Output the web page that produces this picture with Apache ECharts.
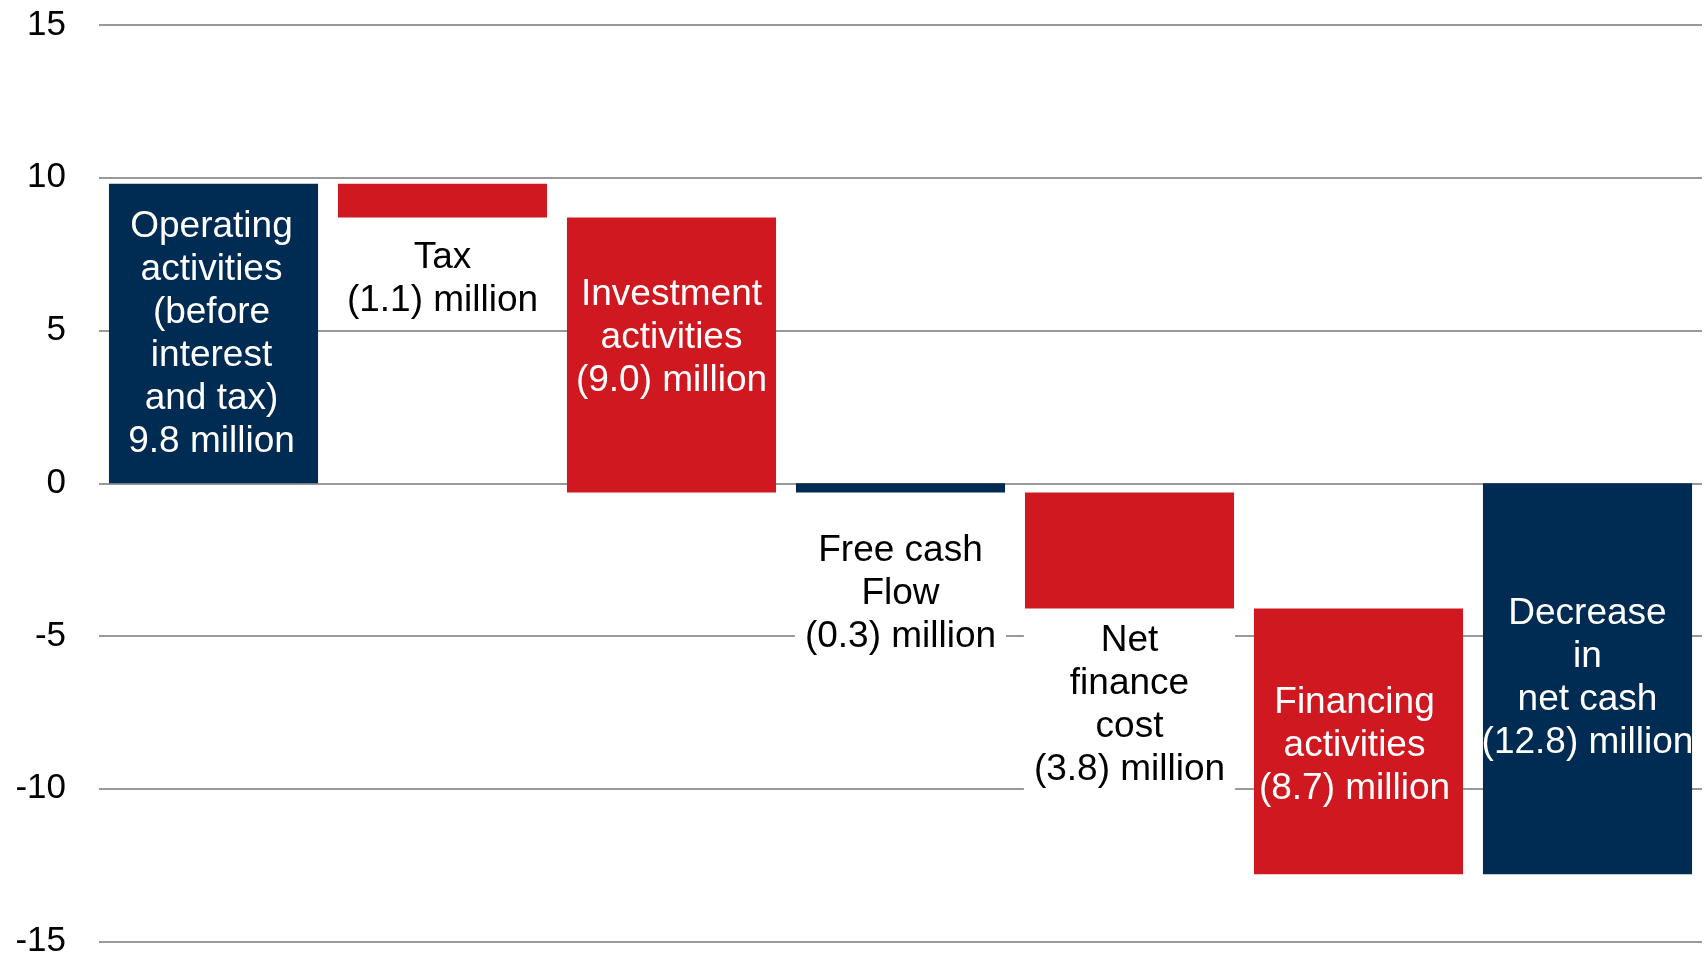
<!DOCTYPE html>
<html>
<head>
<meta charset="utf-8">
<script src="https://cdn.jsdelivr.net/npm/echarts@6/dist/echarts.min.js"></script>
<style>
  html, body { margin: 0; padding: 0; background: #fff; }
  #chart { width: 1708px; height: 959px; }
</style>
</head>
<body>
<div id="chart"></div>
<script>
// 现金流瀑布图 数据
var categories = ['Operating activities', 'Tax', 'Investment activities', 'Free cash Flow', 'Net finance cost', 'Financing activities', 'Decrease in net cash']
var changes = [9.8, -1.1, -9.0, -0.3, -3.8, -8.7, -12.8]
var isTotal = [false, false, false, true, false, false, true]
var labels = [
  'Operating\nactivities\n(before\ninterest\nand tax)\n9.8 million',
  'Tax\n(1.1) million',
  'Investment\nactivities\n(9.0) million',
  'Free cash\nFlow\n(0.3) million',
  'Net\nfinance\ncost\n(3.8) million',
  'Financing\nactivities\n(8.7) million',
  'Decrease\nin\nnet cash\n(12.8) million'
]
var yTicks = [-15, -10, -5, 0, 5, 10, 15]

// 颜色 / 标签位置（样式）
var navy = '#002b52'
var red = '#cf1820'
var labelStyle = [
  { pos: 'inside', color: '#fff', offset: [-2, 1] },
  { pos: 'bottom', color: '#000', distance: 19 },
  { pos: 'inside', color: '#fff', offset: [0, -17] },
  { pos: 'bottom', color: '#000', distance: 37, bg: true },
  { pos: 'bottom', color: '#000', distance: 11, bg: true },
  { pos: 'inside', color: '#fff', offset: [-4, 4] },
  { pos: 'inside', color: '#fff', offset: [0, 0] }
]

// 计算每根柱子的起止
var rows = []
var running = 0
for (var i = 0; i < changes.length; i++) {
  var low, high
  if (isTotal[i]) {
    low = Math.min(0, changes[i])
    high = Math.max(0, changes[i])
    running = changes[i]
  } else {
    var next = running + changes[i]
    low = Math.min(running, next)
    high = Math.max(running, next)
    running = next
  }
  rows.push([i, +low.toFixed(2), +high.toFixed(2)])
}

var myChart = echarts.init(document.getElementById('chart'))
var option = {
  animation: false,
  grid: {
    left: 99,
    right: 6,
    top: 25,
    bottom: 15
  },
  xAxis: {
    type: 'category',
    data: categories,
    axisLabel: { show: false },
    axisTick: { show: false },
    axisLine: { show: false },
    splitLine: { show: false }
  },
  yAxis: {
    type: 'value',
    min: yTicks[0],
    max: yTicks[yTicks.length - 1],
    interval: 5,
    axisLine: { show: false },
    axisTick: { show: false },
    axisLabel: {
      color: '#000',
      fontSize: 35,
      fontFamily: '"Liberation Sans", Arial, sans-serif',
      margin: 33
    },
    splitLine: {
      lineStyle: { color: '#999', width: 2 }
    }
  },
  series: [
    {
      type: 'custom',
      encode: { x: 0, y: [1, 2] },
      data: rows,
      renderItem: function (params, api) {
        var idx = params.dataIndex
        var top = api.coord([idx, api.value(2)])
        var bottom = api.coord([idx, api.value(1)])
        var w = api.size([1, 0])[0] * 0.913
        var ls = labelStyle[idx]
        var barColor = (isTotal[idx] || idx === 0) ? navy : red
        return {
          type: 'rect',
          shape: { x: top[0] - w / 2, y: top[1], width: w, height: bottom[1] - top[1] },
          style: { fill: barColor },
          textContent: {
            style: {
              text: labels[idx],
              fill: ls.color,
              fontSize: 37,
              fontFamily: '"Liberation Sans", Arial, sans-serif',
              lineHeight: 43,
              align: 'center',
              backgroundColor: ls.bg ? '#fff' : null,
              padding: ls.bg ? [0, 10] : 0
            }
          },
          textConfig: {
            position: ls.pos,
            distance: ls.distance || 0,
            offset: ls.offset || [0, 0]
          }
        }
      }
    }
  ]
}
myChart.setOption(option)
window.addEventListener('resize', function () {
  myChart.resize()
})
</script>
</body>
</html>
